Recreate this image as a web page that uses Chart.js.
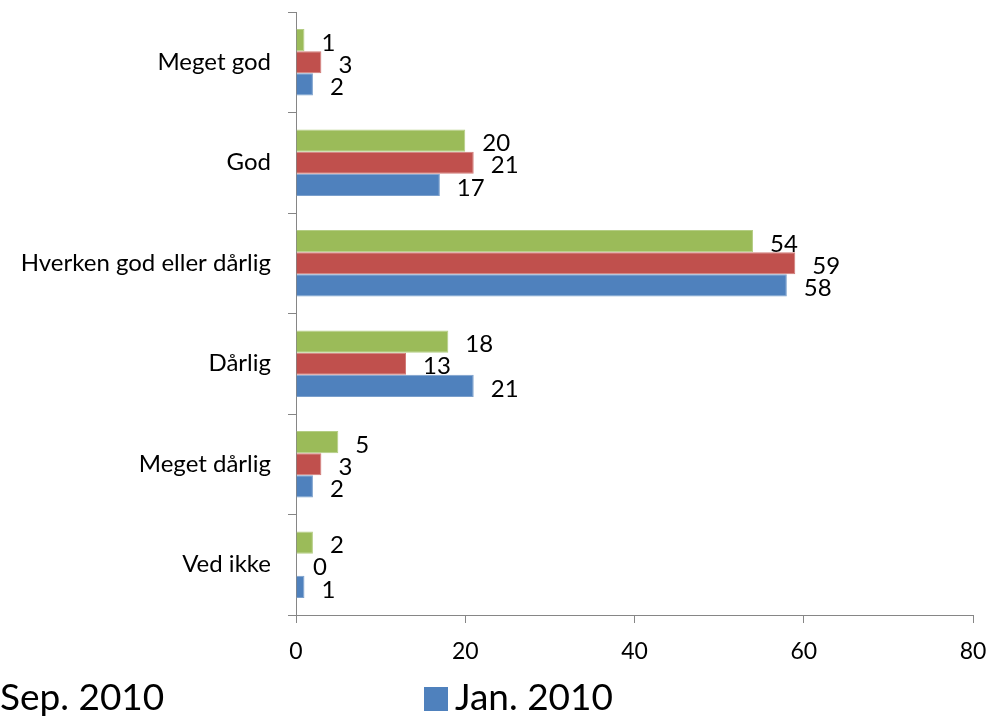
<!DOCTYPE html>
<html>
<head>
    <meta charset="UTF-8">
    <title>Vurdering</title>
    <script src="https://cdn.jsdelivr.net/npm/chart.js"></script>
    <style>
        body { margin: 0; background: #fff; overflow: hidden; }
        #wrap { position: relative; width: 992px; height: 726px; }
        .leg { position: absolute; top: 674px; font-family: Lato, sans-serif; font-size: 37px; color: #000; white-space: nowrap; line-height: 44px; }
        .leg i { display: inline-block; width: 24px; height: 24px; margin-right: 7px; vertical-align: -1px; }
    </style>
</head>
<body>
<div id="wrap">
    <canvas id="myChart"></canvas>
    <div class="leg" id="legSep" style="left:-31px;"><i></i><span></span></div>
    <div class="leg" id="legJan" style="left:424px;"><i></i><span></span></div>
</div>

<script>
    let  labels = ['Meget god', 'God', 'Hverken god eller dårlig', 'Dårlig', 'Meget dårlig', 'Ved ikke'];
    var sep2010 = [1, 20, 54, 18, 5, 2];
    var maj2010 = [3, 21, 59, 13, 3, 0];
    var jan2010 = [2, 17, 58, 21, 2, 1];
    var seriesNames = ['Sep. 2010', 'Maj 2010', 'Jan. 2010'];
    var xTicks = [0, 20, 40, 60, 80];

    const data = {
        labels  : labels,
        datasets: [
            { label: seriesNames[0], data: sep2010, backgroundColor: '#9BBB59', borderColor: '#B4CD84', borderWidth: 1 },
            { label: seriesNames[1], data: maj2010, backgroundColor: '#C0504D', borderColor: '#D17B78', borderWidth: 1 },
            { label: seriesNames[2], data: jan2010, backgroundColor: '#4F81BD', borderColor: '#7A9FCC', borderWidth: 1 }
        ]
    };

    // value next to the end of every bar
    const valueLabels = {
        id: 'valueLabels',
        afterDatasetsDraw(chart) {
            const ctx = chart.ctx;
            ctx.save();
            ctx.font = '24px Lato, sans-serif';
            ctx.fillStyle = '#000';
            ctx.textAlign = 'left';
            ctx.textBaseline = 'middle';
            chart.data.datasets.forEach((ds, i) => {
                chart.getDatasetMeta(i).data.forEach((bar, j) => {
                    ctx.fillText(ds.data[j], bar.x + 17, bar.y + 3);
                });
            });
            ctx.restore();
        }
    };

    const axisColor = '#868686';

    const config = {
        type: 'bar',
        data: data,
        options: {
            indexAxis: 'y',
            animation: false,
            responsive: true,
            maintainAspectRatio: false,
            layout: { padding: { top: 12, right: 19, left: 0, bottom: 0 } },
            datasets: { bar: { barPercentage: 1, categoryPercentage: 0.66 } },
            plugins: {
                legend: { display: false },
                tooltip: { enabled: false }
            },
            scales: {
                x: {
                    min: xTicks[0],
                    max: xTicks[xTicks.length - 1],
                    afterBuildTicks: (scale) => { scale.ticks = xTicks.map(v => ({ value: v })); },
                    ticks: { color: '#000', font: { family: 'Lato', size: 23 }, padding: 15 },
                    grid: { drawOnChartArea: false, tickLength: 8, color: axisColor },
                    border: { color: axisColor },
                    afterFit: (scale) => { scale.height = 111; scale.paddingLeft = 0; scale.paddingRight = 0; }
                },
                y: {
                    ticks: { color: '#000', font: { family: 'Lato', size: 24 }, padding: 17 },
                    grid: { offset: true, drawOnChartArea: false, tickLength: 8, color: axisColor },
                    border: { color: axisColor },
                    afterFit: (scale) => { scale.width = 296; scale.paddingTop = 0; scale.paddingBottom = 0; }
                }
            }
        },
        plugins: [valueLabels]
    };

    const chart = new Chart(
        document.getElementById('myChart'),
        config
    );

    // legend as in the picture: only these two entries are visible
    [['legSep', 0], ['legJan', 2]].forEach(([id, i]) => {
        const el = document.getElementById(id);
        el.querySelector('i').style.background = data.datasets[i].backgroundColor;
        el.querySelector('span').textContent = seriesNames[i];
    });
</script>
</body>
</html>
